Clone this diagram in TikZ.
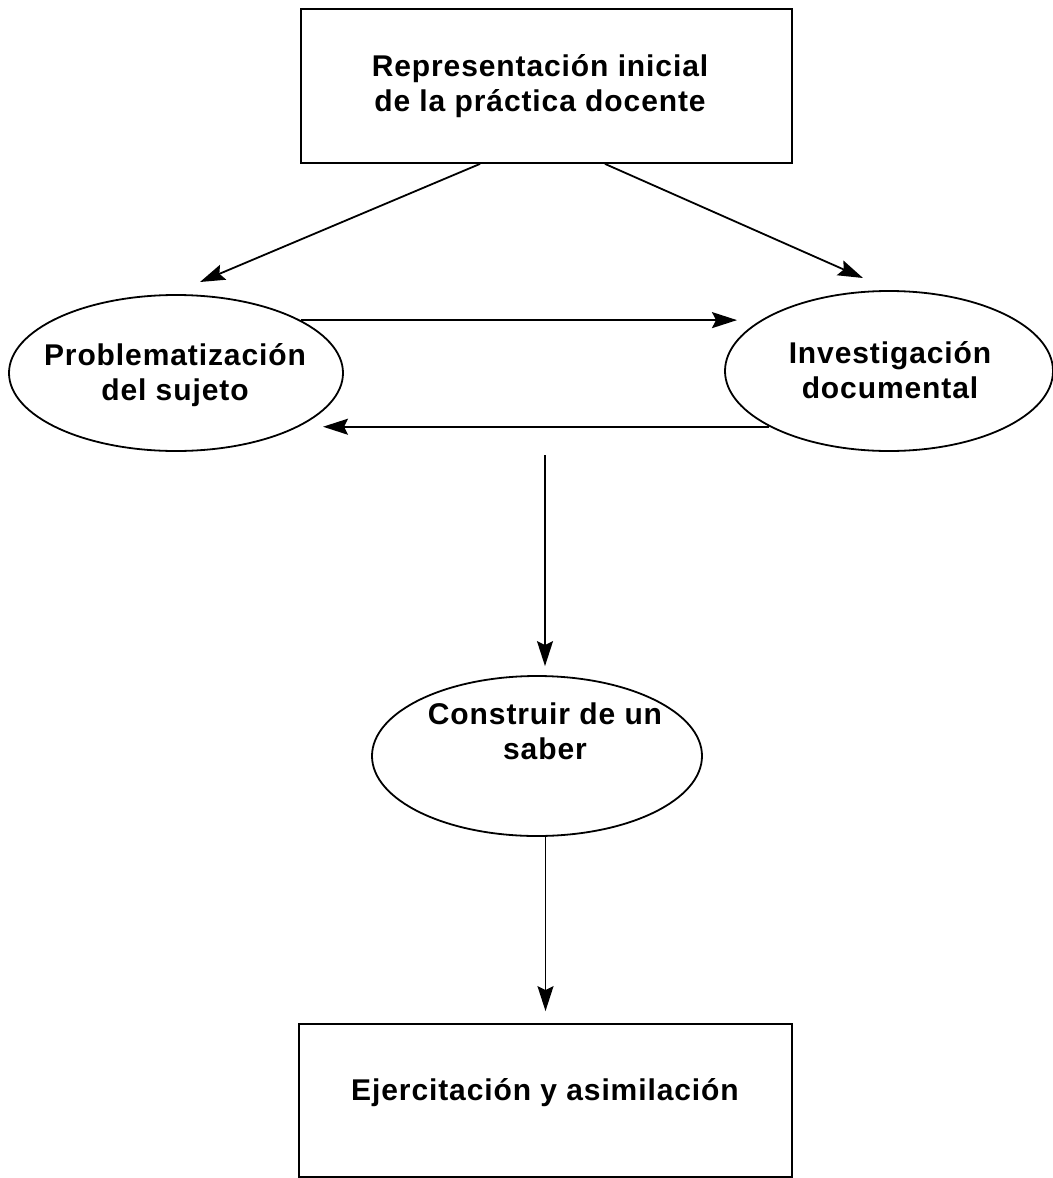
\documentclass[tikz,border=0pt]{standalone}
\usepackage{fontspec}
\setmainfont{Liberation Sans}[LetterSpace=3]
\usetikzlibrary{arrows.meta,shapes.geometric}

\begin{document}
\begin{tikzpicture}[x=0.5pt,y=-0.5pt,
  lbl/.style={font=\bfseries\fontsize{15pt}{17.5pt}\selectfont, align=center, inner sep=0pt},
  boxnode/.style={draw, line width=0.9pt, inner sep=0pt},
  oval/.style={draw, ellipse, line width=0.9pt, inner sep=0pt},
  arr/.style={-{Stealth[length=12.5pt,width=8pt,inset=2pt]}, line width=0.9pt}
]
\useasboundingbox (0,0) rectangle (1053,1178);

% stages of the process
\node[boxnode, minimum width=245.5pt, minimum height=77pt] (top) at (546.5,86) {};
\node[lbl] (toptext) at (540,86) {Representación inicial\\de la práctica docente};

\node[oval, minimum width=167pt, minimum height=78pt] (pl) at (176,373) {};
\node[lbl] (pltext) at (175,375) {Problematización\\del sujeto};

\node[oval, minimum width=164pt, minimum height=80pt] (pr) at (889,371) {};
\node[lbl] (prtext) at (890,370) {Investigación\\documental};

\node[oval, minimum width=165pt, minimum height=80pt] (pm) at (537,756) {};
\node[lbl] (pmtext) at (545,731) {Construir de un\\saber};

\node[boxnode, minimum width=246.5pt, minimum height=76.5pt] (bot) at (545.5,1100.5) {};
\node[lbl] (bottext) at (545,1093) {Ejercitación y asimilación};

% free arrow ends
\coordinate (t1) at (200,282);
\coordinate (t2) at (863,278);
\coordinate (t3) at (737,320);
\coordinate (t4) at (323,428);
\coordinate (s5) at (545,455);

% connectors
\draw[arr] ([xshift=-33.25pt]top.south) -- (t1);
\draw[arr] ([xshift=29.25pt]top.south) -- (t2);
\draw[arr] (pl.23.5) -- (pl.23.5 -| t3);
\draw[arr] (pr.205.6) -- (pr.205.6 -| t4);
\draw[arr, shorten >=4.5pt] (s5) -- (s5 |- pm.north);
\draw[arr, shorten >=6pt] (pm.south -| bot.north) -- (bot.north);
\end{tikzpicture}
\end{document}
